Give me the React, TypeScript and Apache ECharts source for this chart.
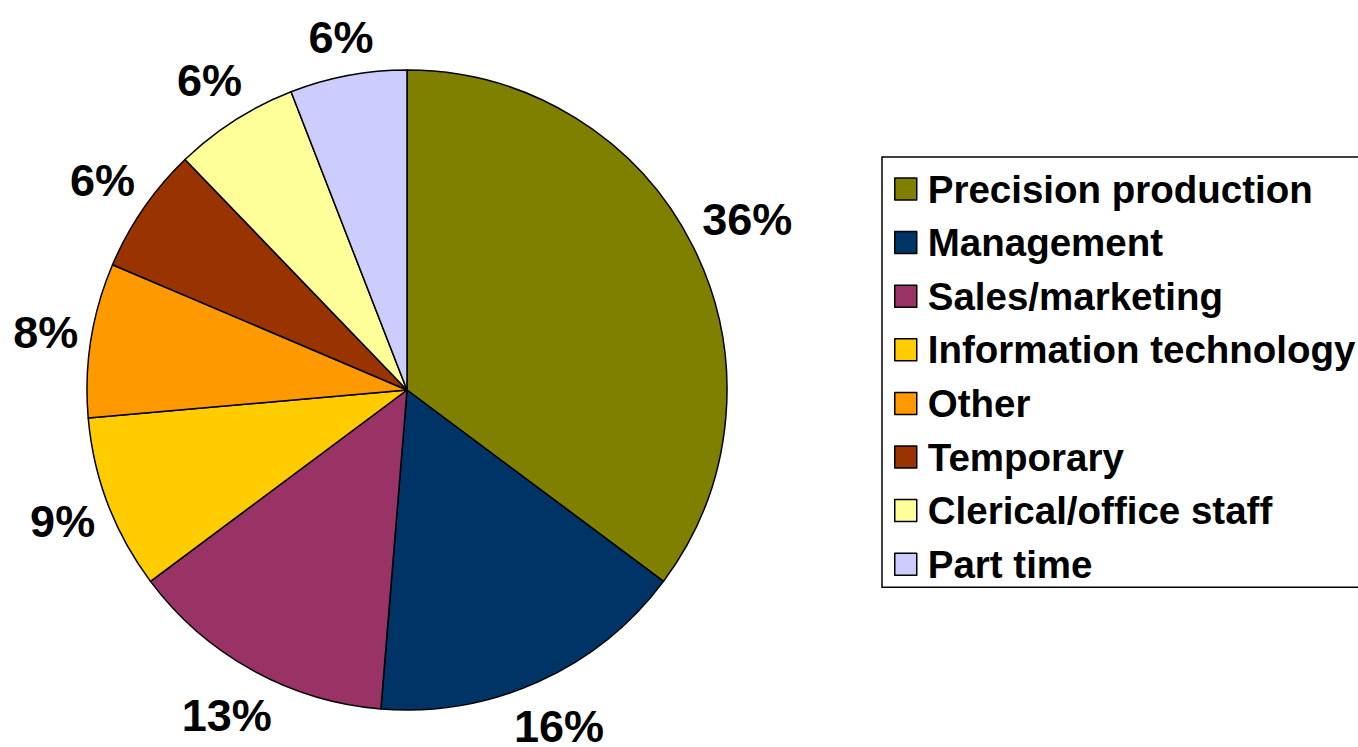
import React, { useEffect, useRef } from "react";
import * as echarts from "echarts";

const categories = [
  "Precision production",
  "Management",
  "Sales/marketing",
  "Information technology",
  "Other",
  "Temporary",
  "Clerical/office staff",
  "Part time",
];
const values = [35.2, 16.1, 13.5, 8.8, 7.8, 6.4, 6.3, 5.9];
const percentLabels = ["36%", "16%", "13%", "9%", "8%", "6%", "6%", "6%"];
const colors = ["#808000", "#003366", "#993366", "#FFCC00", "#FF9900", "#993300", "#FFFF99", "#CCCCFF"];

const FONT = "'Liberation Sans', Arial, sans-serif";
const CX = 407;
const CY = 390;
const R = 320;
const LABEL_GAP = 10;

export default function App() {
  const ref = useRef<HTMLDivElement>(null);
  useEffect(() => {
    document.body.style.margin = "0";
    const chart = echarts.init(ref.current!, undefined, { renderer: "svg" });
    chart.setOption({
      animation: false,
      backgroundColor: "#ffffff",
      legend: {
        orient: "vertical",
        left: 882,
        top: 157,
        padding: [12, 14, 3, 12],
        borderColor: "#000000",
        borderWidth: 1.5,
        itemWidth: 22,
        itemHeight: 22,
        itemGap: 13.6,
        icon: "rect",
        selectedMode: false,
        data: categories,
        itemStyle: { borderColor: "#000000", borderWidth: 1.5 },
        textStyle: {
          fontFamily: FONT,
          fontWeight: "bold",
          fontSize: 38.5,
          lineHeight: 40,
          color: "#000000",
          padding: [0, 0, 0, 6],
        },
      },
      series: [
        {
          type: "pie",
          center: [CX, CY],
          radius: R,
          startAngle: 90,
          clockwise: true,
          silent: true,
          avoidLabelOverlap: false,
          labelLine: { show: false },
          itemStyle: { borderColor: "#000000", borderWidth: 1.5 },
          label: {
            show: true,
            position: "inside",
            rotate: 0,
            formatter: (p: any) => percentLabels[p.dataIndex],
            fontFamily: FONT,
            fontWeight: "bold",
            fontSize: 45,
            lineHeight: 46,
            color: "#000000",
          },
          labelLayout: (params: any) => {
            const lr = params.labelRect;
            const mx = lr.x + lr.width / 2 - CX;
            const my = lr.y + lr.height / 2 - CY;
            const len = Math.sqrt(mx * mx + my * my) || 1;
            const ux = mx / len;
            const uy = my / len;
            const support = (lr.width / 2) * Math.abs(ux) + (lr.height / 2) * Math.abs(uy);
            const d = R + LABEL_GAP + support;
            return {
              x: CX + ux * d,
              y: CY + uy * d,
              align: "center",
              verticalAlign: "middle",
            };
          },
          data: categories.map((name, i) => ({
            name,
            value: values[i],
            itemStyle: { color: colors[i] },
          })),
        },
      ],
    });
    return () => chart.dispose();
  }, []);
  return <div ref={ref} style={{ width: 1358, height: 747, overflow: "hidden" }} />;
}
